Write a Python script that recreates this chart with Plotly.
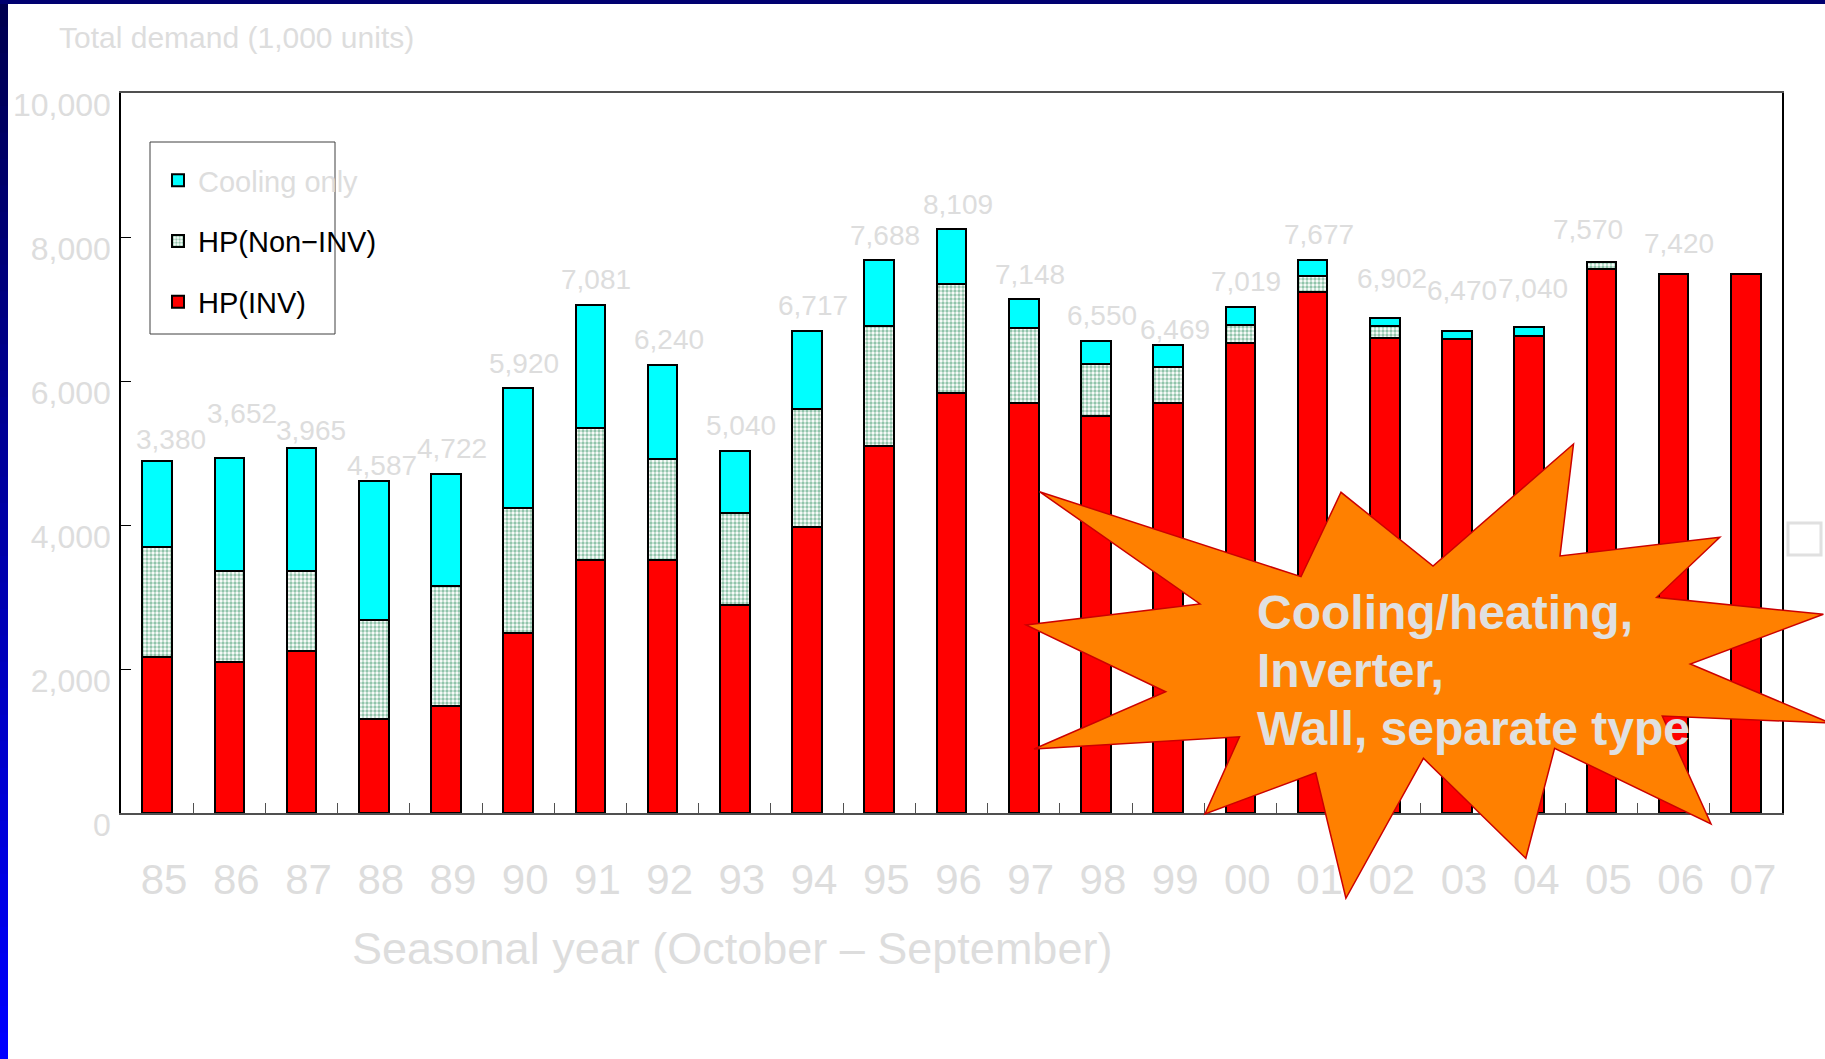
import plotly.graph_objects as go

# ---------------- data ----------------
years = ["85", "86", "87", "88", "89", "90", "91", "92", "93", "94", "95", "96",
         "97", "98", "99", "00", "01", "02", "03", "04", "05", "06", "07"]
hp_inv = [2170, 2095, 2248, 1310, 1490, 2503, 3508, 3508, 2894, 3977, 5102, 5833,
          5689, 5511, 5689, 6522, 7239, 6591, 6577, 6628, 7562, 7493, 7493]
hp_non_inv = [1526, 1270, 1117, 1368, 1665, 1734, 1841, 1405, 1276, 1634, 1665, 1521,
              1054, 719, 509, 255, 222, 176, None, None, 93, None, None]
cooling_only = [1194, 1561, 1709, 1929, 1558, 1662, 1712, 1313, 863, 1087, 912, 755,
                394, 329, 296, 254, 222, 115, 111, 116, None, None, None]
total_labels = ["3,380", "3,652", "3,965", "4,587", "4,722", "5,920", "7,081", "6,240",
                "5,040", "6,717", "7,688", "8,109", "7,148", "6,550", "6,469", "7,019",
                "7,677", "6,902", "6,470", "7,040", "7,570", "7,420", ""]
y_ticks = [0, 2000, 4000, 6000, 8000, 10000]

# ---------------- layout geometry (pixels) ----------------
W, H = 1825, 1059
PL, PR, PT, PB = 121, 1782, 93, 813


def px_x(px):
    return (px - PL) / (PR - PL)


def px_y(py):
    return (PB - py) / (PB - PT)


GREY = "#dddddd"
FONT = "Liberation Sans, Arial, sans-serif"

fig = go.Figure()
fig.add_trace(go.Bar(
    x=years, y=hp_inv, name="HP(INV)",
    marker=dict(color="#ff0000", line=dict(color="black", width=2)),
    legendgroup="inv", legendrank=3,
))
fig.add_trace(go.Bar(
    x=years, y=hp_non_inv, name="HP(Non\u2212INV)",
    marker=dict(color="white", line=dict(color="black", width=2),
                pattern=dict(shape=".", fgcolor="#248a58", size=4, solidity=0.55,
                             fillmode="overlay")),
    legendgroup="non", legendrank=2,
))
fig.add_trace(go.Bar(
    x=years, y=cooling_only, name='<span style="color:#dddddd">Cooling only</span>',
    marker=dict(color="#00ffff", line=dict(color="black", width=2)),
    legendgroup="cool", legendrank=1,
))

# ---------------- value labels above bars ----------------
label_nudge = {"85": (14, 21), "86": (13, 45), "87": (9, 17), "88": (8, 16),
               "99": (7, 16), "02": (7, 39), "03": (5, 41), "04": (4, 39),
               "05": (-13, 32), "06": (5, 30)}
annotations = []
for i, yr in enumerate(years):
    if not total_labels[i]:
        continue
    tot = sum(v for v in (hp_inv[i], hp_non_inv[i], cooling_only[i]) if v)
    dx, dy = label_nudge.get(yr, (6, 25))
    annotations.append(dict(
        x=i, y=tot, xref="x", yref="y", text=total_labels[i], showarrow=False,
        xanchor="center", yanchor="middle", xshift=dx, yshift=dy,
        font=dict(size=28, color=GREY, family=FONT)))

# titles
annotations.append(dict(
    x=px_x(57), y=px_y(37), xref="paper", yref="paper", showarrow=False,
    text="Total demand (1,000 units)", xanchor="left", yanchor="middle",
    font=dict(size=30, color=GREY, family=FONT)))
annotations.append(dict(
    x=px_x(732), y=px_y(948), xref="paper", yref="paper", showarrow=False,
    text="Seasonal year (October \u2013 September)", xanchor="center", yanchor="middle",
    font=dict(size=45, color=GREY, family=FONT)))

# starburst text
for txt, cy in [("Cooling/heating,", 612), ("Inverter,", 670), ("Wall, separate type", 728)]:
    annotations.append(dict(
        x=px_x(1255), y=px_y(cy), xref="paper", yref="paper", showarrow=False,
        text="<b>" + txt + "</b>", xanchor="left", yanchor="middle",
        font=dict(size=48, color="#e0e0e0", family=FONT)))

# ---------------- shapes ----------------
shapes = []
# slide decoration: left gradient strip and top navy strip
n = 40
for k in range(n):
    t = k / (n - 1)
    r, g, b = 0, 0, int(80 + (255 - 80) * t)
    y0 = H * k / n
    y1 = H * (k + 1) / n + 1
    shapes.append(dict(type="rect", xref="paper", yref="paper", layer="above",
                       x0=px_x(0), x1=px_x(8), y0=px_y(y1), y1=px_y(y0),
                       fillcolor=f"rgb({r},{g},{b})", line=dict(width=0)))
shapes.append(dict(type="rect", xref="paper", yref="paper", layer="above",
                   x0=px_x(0), x1=px_x(W), y0=px_y(4), y1=px_y(0),
                   fillcolor="#000070", line=dict(width=0)))

# legend frame
shapes.append(dict(type="rect", xref="paper", yref="paper", layer="above",
                   x0=px_x(150), x1=px_x(335), y0=px_y(334), y1=px_y(142),
                   line=dict(color="#404040", width=1), fillcolor="rgba(0,0,0,0)"))

# small grey square at right edge
shapes.append(dict(type="rect", xref="paper", yref="paper", layer="above",
                   x0=px_x(1788), x1=px_x(1821), y0=px_y(555), y1=px_y(523),
                   line=dict(color="#e0e0e0", width=3), fillcolor="rgba(0,0,0,0)"))

# starburst callout
star_px = [(1039.5, 491.7), (1301, 576.7), (1341, 492.3), (1433, 566), (1573.5, 444),
           (1560, 556), (1719.8, 537.3), (1656.6, 597.3), (1823.4, 614.3), (1690.3, 664),
           (1830, 723), (1662.3, 716), (1711, 824), (1554.6, 748.3), (1525.8, 858.3),
           (1423.4, 758.3), (1345.9, 898.3), (1315.7, 772.7), (1205, 814), (1239.5, 736.7),
           (1034, 749), (1165.7, 691.7), (1026, 625), (1200, 604)]
path = "M " + " L ".join(f"{px_x(x):.5f},{px_y(y):.5f}" for x, y in star_px) + " Z"
shapes.append(dict(type="path", xref="paper", yref="paper", layer="above", path=path,
                   fillcolor="#ff8000", line=dict(color="#cc0000", width=1.5)))

fig.update_layout(
    width=W, height=H,
    margin=dict(l=PL, r=W - PR, t=PT, b=H - PB, pad=0, autoexpand=False),
    paper_bgcolor="white", plot_bgcolor="white",
    barmode="stack", bargap=0.59,
    font=dict(family=FONT),
    showlegend=True,
    legend=dict(x=px_x(158), y=px_y(155), xanchor="left", yanchor="top",
                bgcolor="rgba(0,0,0,0)", borderwidth=0, traceorder="grouped",
                tracegroupgap=20, font=dict(size=29, color="black", family=FONT)),
    xaxis=dict(type="category", range=[-0.5, len(years) - 0.5], autorange=False,
               automargin=False,
               showgrid=False, zeroline=False, tickangle=0,
               showline=True, linecolor="#505050", linewidth=2, mirror=True,
               ticks="inside", tickson="boundaries", ticklen=10, tickcolor="#505050",
               tickfont=dict(size=42, color=GREY, family=FONT),
               ticklabelshift=7, ticklabelstandoff=29),
    yaxis=dict(range=[0, 10000], autorange=False, automargin=False,
               tickvals=y_ticks, tickformat=",d",
               showgrid=False, zeroline=False,
               showline=True, linecolor="black", linewidth=1.5, mirror=True,
               ticks="inside", ticklen=10, tickcolor="black",
               tickfont=dict(size=32, color=GREY, family=FONT),
               ticklabelshift=12, ticklabelstandoff=2),
    annotations=annotations,
    shapes=shapes,
)

fig.write_html("out.html", config={"displayModeBar": False},
               post_script="document.body.style.margin='0';")
